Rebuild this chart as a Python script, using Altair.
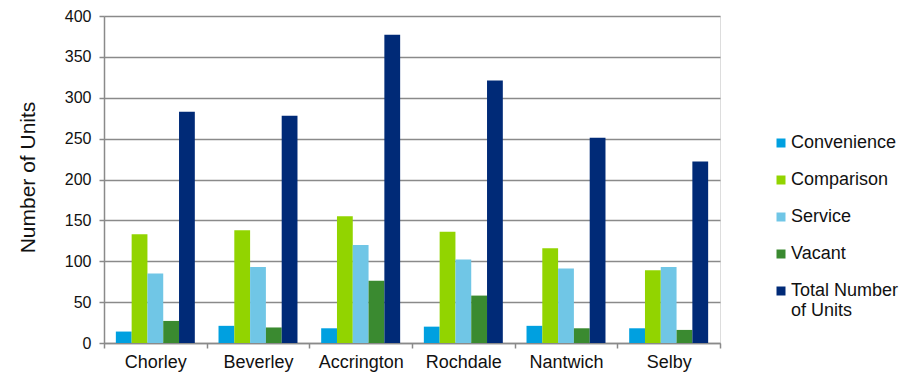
import altair as alt
import pandas as pd

towns = ["Chorley", "Beverley", "Accrington", "Rochdale", "Nantwich", "Selby"]
series = ["Convenience", "Comparison", "Service", "Vacant", "Total Number of Units"]
convenience = [14, 21, 18, 20, 21, 18]
comparison = [133, 138, 155, 136, 116, 89]
service = [85, 93, 120, 102, 91, 93]
vacant = [27, 19, 76, 58, 18, 16]
total = [283, 278, 377, 321, 251, 222]
colors = ["#00A0E0", "#92D400", "#70C6E6", "#3A8A30", "#002A77"]
y_ticks = [0, 50, 100, 150, 200, 250, 300, 350, 400]

rows = []
for s, vals in zip(series, [convenience, comparison, service, vacant, total]):
    for t, v in zip(towns, vals):
        rows.append({"Town": t, "Series": s, "Units": v})
df = pd.DataFrame(rows)

FONT = "Liberation Sans"
GRID = "#8a8a8a"

chart = alt.Chart(df).mark_bar().encode(
    x=alt.X("Town:N", sort=towns, title=None,
            scale=alt.Scale(paddingInner=0, paddingOuter=0),
            axis=alt.Axis(labelAngle=0, tickBand="extent", labelFontSize=18,
                          labelColor="#111111", labelFont=FONT, domainColor=GRID,
                          domainWidth=1.5, tickColor=GRID, tickWidth=1.5, tickSize=5,
                          labelPadding=5, grid=False)),
    xOffset=alt.XOffset("Series:N", sort=series,
                        scale=alt.Scale(paddingInner=0, paddingOuter=0.75)),
    y=alt.Y("Units:Q", title="Number of Units",
            scale=alt.Scale(domain=[0, 400], nice=False),
            axis=alt.Axis(values=y_ticks, labelFontSize=16, labelColor="#111111",
                          labelFont=FONT, titleFont=FONT, titleFontSize=21,
                          titleFontWeight="normal", titleColor="#111111",
                          titleX=-76, titleY=161, titleBaseline="middle",
                          titleAngle=-90, titleAlign="center",
                          domainColor=GRID, domainWidth=1.5, tickColor=GRID,
                          tickWidth=1.5, tickSize=5, labelPadding=8,
                          gridColor=GRID, gridWidth=1.5)),
    color=alt.Color("Series:N", sort=series,
                    scale=alt.Scale(domain=series, range=colors),
                    legend=alt.Legend(title=None, orient="none", legendX=668, legendY=118,
                                      symbolType="square", symbolSize=81,
                                      symbolStrokeWidth=0, labelFontSize=18,
                                      labelFont=FONT, labelColor="#111111",
                                      rowPadding=19, labelOffset=1,
                                      labelExpr="datum.label == 'Total Number of Units' ? ['Total Number', 'of Units'] : datum.label")),
).properties(
    width=616, height=327,
    autosize=alt.AutoSizeParams(type="none"),
    padding={"left": 104, "top": 16, "right": 199, "bottom": 33},
).configure_view(stroke=None).configure(background="white")

chart.save("out.html", embed_options={"renderer": "svg", "actions": False})
